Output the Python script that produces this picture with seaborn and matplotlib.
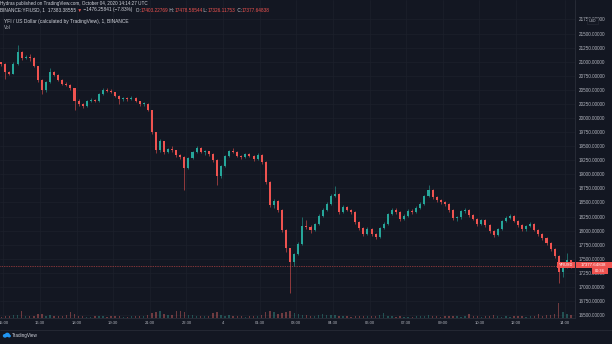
import matplotlib
matplotlib.use("Agg")
import matplotlib.pyplot as plt
import matplotlib.patches as mpatches
import numpy as np
import pandas as pd
import seaborn as sns

# ---- palette -------------------------------------------------------------
BG = "#131722"
GRID = "#1c202c"
BORDER = "#2a2e39"
TEXT = "#b2b5be"
LIGHT = "#d1d4dc"
UP = "#26a69a"
DOWN = "#ef5350"

# ---- data: YFI/USD, 10-minute bars (minutes after 15:00 UTC, Oct 3) -------
bar_minutes = list(range(-5, 1400, 10))
first_open = 20990
closes = [
    20960, 20817, 20790, 20960, 21170, 21066, 21083, 21060, 20925, 20675,
    20497, 20640, 20817, 20765, 20675, 20604, 20586, 20533, 20302, 20249,
    20213, 20302, 20320, 20302, 20426, 20497, 20480, 20462, 20390, 20337,
    20355, 20337, 20355, 20302, 20249, 20249, 20142, 19751, 19432, 19591,
    19396, 19450, 19432, 19343, 19308, 19112, 19290, 19396, 19467, 19396,
    19410, 19360, 19254, 18970, 19147, 19325, 19414, 19396, 19325, 19308,
    19360, 19325, 19272, 19343, 19219, 18863, 18455, 18526, 18366, 18011,
    17691, 17443, 17585, 17762, 18082, 18060, 18011, 18117, 18260, 18366,
    18473, 18615, 18650, 18331, 18420, 18366, 18331, 18153, 18046, 17940,
    18029, 17940, 17887, 18046, 18117, 18295, 18366, 18331, 18206, 18260,
    18349, 18331, 18402, 18473, 18615, 18721, 18597, 18544, 18508, 18473,
    18366, 18224, 18240, 18349, 18366, 18277, 18206, 18117, 18188, 18100,
    17993, 17922, 18029, 18171, 18224, 18260, 18171, 18100, 18029, 18082,
    18117, 18011, 17940, 17869, 17780, 17673, 17549, 17265, 17372, 17478,
    17377.64838,
]
highs = [
    21000, 20975, 20840, 20990, 21300, 21190, 21120, 21130, 21080, 20930,
    20700, 20660, 20880, 20840, 20780, 20690, 20640, 20600, 20540, 20330,
    20270, 20320, 20350, 20340, 20440, 20540, 20530, 20510, 20470, 20400,
    20380, 20370, 20390, 20380, 20310, 20290, 20260, 20150, 19760, 19620,
    19600, 19470, 19500, 19440, 19360, 19320, 19310, 19420, 19500, 19480,
    19440, 19420, 19380, 19270, 19170, 19340, 19440, 19470, 19410, 19350,
    19380, 19380, 19340, 19380, 19360, 19230, 18880, 18560, 18540, 18380,
    18020, 17700, 17610, 17790, 18240, 18190, 18100, 18140, 18290, 18400,
    18500, 18650, 18790, 18660, 18460, 18440, 18390, 18340, 18170, 18060,
    18060, 18040, 17960, 18070, 18160, 18320, 18400, 18400, 18340, 18290,
    18380, 18380, 18430, 18500, 18640, 18810, 18740, 18620, 18570, 18530,
    18490, 18380, 18260, 18370, 18400, 18380, 18300, 18220, 18210, 18200,
    18120, 18010, 18050, 18190, 18260, 18290, 18280, 18190, 18120, 18100,
    18150, 18130, 18030, 17960, 17880, 17790, 17690, 17560, 17400, 17600,
    17480,
]
lows = [
    20930, 20690, 20760, 20780, 20950, 21030, 21040, 21020, 20900, 20640,
    20420, 20470, 20620, 20740, 20650, 20580, 20560, 20500, 20140, 20220,
    20180, 20200, 20280, 20280, 20290, 20410, 20460, 20440, 20370, 20250,
    20310, 20300, 20320, 20280, 20220, 20210, 20120, 19720, 19380, 19400,
    19360, 19370, 19400, 19310, 19270, 18720, 19100, 19270, 19380, 19370,
    19350, 19320, 19220, 18810, 18940, 19130, 19300, 19370, 19300, 19280,
    19290, 19300, 19240, 19250, 19190, 18820, 18420, 18400, 18330, 17970,
    17620, 16890, 17380, 17560, 17740, 18030, 17960, 17990, 18100, 18240,
    18340, 18450, 18590, 18300, 18310, 18340, 18300, 18120, 18010, 17900,
    17920, 17910, 17850, 17870, 18020, 18100, 18270, 18300, 18170, 18180,
    18240, 18300, 18310, 18380, 18450, 18600, 18570, 18510, 18480, 18440,
    18330, 18190, 18170, 18200, 18320, 18250, 18180, 18090, 18100, 18070,
    17960, 17890, 17900, 18010, 18150, 18200, 18150, 18070, 18000, 18000,
    18060, 17990, 17910, 17840, 17750, 17640, 17510, 17070, 17180, 17340,
    17330,
]
volumes = [
    14, 22, 18, 25, 30, 70, 20, 16, 24, 35,
    40, 22, 28, 15, 18, 20, 26, 55, 38, 20,
    16, 14, 12, 18, 22, 16, 12, 15, 20, 24,
    14, 12, 15, 18, 16, 20, 30, 48, 60, 65,
    35, 28, 30, 70, 72, 60, 30, 25, 22, 18,
    20, 24, 45, 55, 30, 22, 26, 18, 16, 20,
    14, 18, 20, 16, 30, 60, 65, 55, 40, 50,
    62, 70, 45, 38, 30, 25, 22, 20, 26, 40,
    28, 26, 30, 22, 18, 15, 14, 20, 18, 22,
    16, 20, 18, 28, 50, 24, 18, 14, 16, 12,
    14, 12, 15, 18, 22, 28, 20, 16, 14, 18,
    20, 24, 16, 14, 18, 40, 20, 16, 14, 18,
    22, 26, 18, 14, 16, 12, 15, 18, 16, 14,
    16, 22, 38, 20, 26, 30, 40, 150, 60, 35,
    25,
]
last_price = 17377.64838

time_ticks = [0, 90, 180, 270, 360, 450, 540, 630, 720, 810, 900, 990,
              1080, 1170, 1260, 1380]
time_labels = ["15:00", "16:30", "18:00", "19:30", "21:00", "22:30", "4",
               "01:30", "03:00", "04:30", "06:00", "07:30", "09:00", "10:30",
               "12:00", "14:00"]
price_ticks = list(range(16500, 21751, 250))

# ---- style ---------------------------------------------------------------
sns.set_style("dark", {
    "axes.facecolor": BG, "figure.facecolor": BG, "grid.color": GRID,
    "text.color": LIGHT, "xtick.color": TEXT, "ytick.color": TEXT,
    "axes.edgecolor": BORDER,
})
plt.rcParams["font.family"] = ["Liberation Sans", "DejaVu Sans"]

W, H = 612, 344
fig = plt.figure(figsize=(W / 100, H / 100), dpi=100, facecolor=BG)
PLOT_R, PLOT_B = 575, 318
ax = fig.add_axes([0, 1 - PLOT_B / H, PLOT_R / W, PLOT_B / H])
ax.set_facecolor(BG)

df = pd.DataFrame({
    "minute": bar_minutes,
    "open": [first_open] + closes[:-1],
    "high": highs, "low": lows, "close": closes, "volume": volumes,
})
df["direction"] = np.where(df["close"] >= df["open"], "up", "down")
colors = df["direction"].map({"up": UP, "down": DOWN}).tolist()

# candles: wicks + bodies
ax.vlines(df["minute"], df["low"], df["high"], colors=colors,
          linewidth=0.4, zorder=3)
body = (df["close"] - df["open"]).abs().clip(lower=12)
ax.bar(df["minute"], body, bottom=df[["open", "close"]].min(axis=1),
       width=5.0, color=colors, linewidth=0, zorder=4)

# last-price dotted line
ax.axhline(last_price, color=DOWN, linewidth=0.5, linestyle=(0, (1, 1.5)),
           zorder=2)

# volume overlay at the bottom of the pane
axv = ax.twinx()
sns.barplot(data=df, x="minute", y="volume", hue="direction",
            palette={"up": UP, "down": DOWN}, native_scale=True, dodge=False,
            width=0.35, errorbar=None, legend=False, alpha=0.45, linewidth=0,
            ax=axv)
axv.set_ylim(0, max(volumes) * 21)
axv.axis("off")

ax.set_xlim(-8.1, 1405)
ax.set_ylim(16448, 22096)
ax.set_xticks(time_ticks, time_labels)
ax.set_yticks(price_ticks, [f"{p:.5f}" for p in price_ticks])
ax.yaxis.tick_right()
ax.tick_params(axis="both", length=0, labelsize=3.3, colors=TEXT)
ax.tick_params(axis="x", pad=2.4, labelsize=3.0)
ax.tick_params(axis="y", pad=3.0)
ax.grid(True, color=GRID, linewidth=0.5)
ax.set_xlabel("")
ax.set_ylabel("")
for name, sp in ax.spines.items():
    sp.set_visible(name in ("right", "bottom"))
    sp.set_color(BORDER)
    sp.set_linewidth(0.6)

# ---- header and legend texts --------------------------------------------
renderer = fig.canvas.get_renderer()


def px(x, y):
    return x / W, 1 - y / H


def segments(x0, y0, parts, size):
    x = x0
    for s, c in parts:
        t = fig.text(*px(x, y0), s, color=c, fontsize=size, ha="left",
                     va="center")
        x = t.get_window_extent(renderer=renderer).x1


segments(0, 3, [("Hydras published on TradingView.com, October 04, 2020 "
                 "14:14:27 UTC", LIGHT)], 3.35)
segments(0, 10, [
    ("BINANCE:YFIUSD, 1", LIGHT), ("  17383.38555", LIGHT), (" \u25bc", DOWN),
    (" \u22121476.25841 (\u22127.83%)", LIGHT),
    ("  O:", LIGHT), ("17403.22769", DOWN),
    (" H:", LIGHT), ("17478.58544", DOWN),
    (" L:", LIGHT), ("17326.11753", DOWN),
    (" C:", LIGHT), ("17377.64838", DOWN),
], 3.45)
segments(4, 21, [("YFI / US Dollar (calculated by TradingView), 1, BINANCE",
                  LIGHT)], 3.55)
segments(4, 27.5, [("Vol", TEXT)], 3.4)


def box(x0, y0, x1, y1, fc, text, tc, size, ec="none"):
    r = mpatches.Rectangle(px(x0, y1), (x1 - x0) / W, (y1 - y0) / H,
                           transform=fig.transFigure, facecolor=fc,
                           edgecolor=ec, linewidth=0.4, zorder=5)
    fig.add_artist(r)
    fig.text(*px((x0 + x1) / 2, (y0 + y1) / 2), text, color=tc,
             fontsize=size, ha="center", va="center", zorder=6)


box(557, 261.5, 575, 267.5, DOWN, "YFIUSD", "white", 2.8)
box(575.5, 261.5, 612, 267.5, DOWN, f"{last_price:.5f}", "white", 3.2)
box(592, 268, 608, 274, DOWN, "00:34", "white", 2.8)
box(587, 18, 598, 23.5, BG, "USD", TEXT, 2.6, ec=BORDER)

# bottom bar with logo
fig.add_artist(plt.Line2D([0, 1], [1 - 330 / H] * 2, color=BORDER,
                          linewidth=0.5, transform=fig.transFigure))
logo = fig.add_axes([2 / W, 1 - 339 / H, 9 / W, 8 / H])
logo.set_xlim(0, 9)
logo.set_ylim(0, 8)
logo.axis("off")
for cx, cy, rr in [(3.0, 3.2, 2.2), (5.3, 4.2, 2.5), (7.2, 3.0, 1.7)]:
    logo.add_patch(mpatches.Ellipse((cx, cy), rr * 2, rr * 1.7,
                                    color="#2196f3", linewidth=0))
fig.text(*px(12, 335), "TradingView", color=LIGHT, fontsize=3.3, ha="left",
         va="center")

fig.savefig("out.png", dpi=100, facecolor=BG)
